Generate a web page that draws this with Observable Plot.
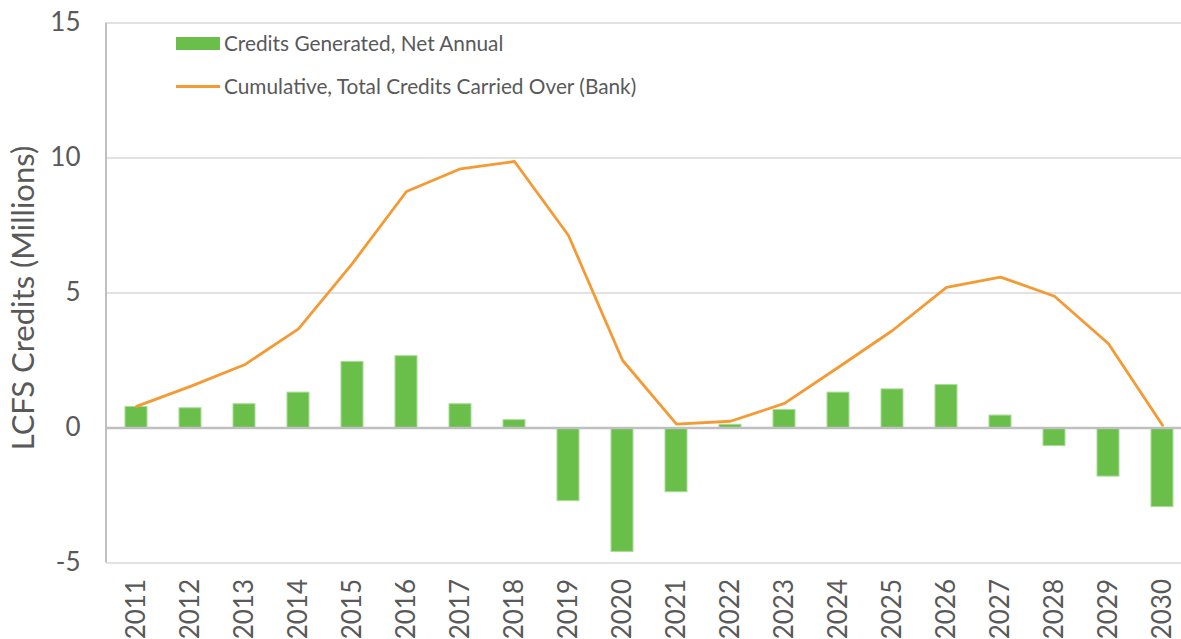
<!DOCTYPE html>
<html><head><meta charset="utf-8">
<script src="https://cdn.jsdelivr.net/npm/d3@7"></script>
<script src="https://cdn.jsdelivr.net/npm/@observablehq/plot@0.6"></script>
<style>
html,body{margin:0;padding:0;overflow:hidden;background:#fff}
#wrap{position:relative;width:1181px;height:639px;overflow:hidden}
#legend{position:absolute;left:176px;top:22px;font-family:Lato,sans-serif;font-size:20.8px;color:#595959}
.row{display:flex;align-items:center;height:43px;line-height:1}
.sw{width:44px;margin-right:4px}
</style></head><body>
<div id="wrap"><div id="chart"></div>
<div id="legend">
 <div class="row"><div class="sw" style="height:13px;background:#6abf4b"></div><span>Credits Generated, Net Annual</span></div>
 <div class="row"><div class="sw" style="height:3px;background:#f59a33"></div><span>Cumulative, Total Credits Carried Over (Bank)</span></div>
</div></div>
<script>
const years = [2011,2012,2013,2014,2015,2016,2017,2018,2019,2020,2021,2022,2023,2024,2025,2026,2027,2028,2029,2030];
const annualCredits = [0.78,0.73,0.88,1.31,2.45,2.66,0.88,0.29,-2.71,-4.59,-2.38,0.12,0.67,1.31,1.43,1.59,0.46,-0.67,-1.8,-2.93];
const cumulativeBank = [0.80,1.54,2.34,3.67,6.10,8.76,9.60,9.87,7.13,2.51,0.14,0.25,0.91,2.25,3.61,5.21,5.59,4.88,3.12,0.10];
const yTicks = [-5,0,5,10,15];
const yTitle = "LCFS Credits (Millions)";

const yearLabels = years.map(String);
const data = years.map((y,i)=>({year:yearLabels[i], annual:annualCredits[i], cumulative:cumulativeBank[i]}));
const font = "Lato, sans-serif";
const ink = "#595959";

const leftAxisLine = (index, scales, values, dims) => {
  const l = document.createElementNS("http://www.w3.org/2000/svg","line");
  l.setAttribute("x1", dims.marginLeft); l.setAttribute("x2", dims.marginLeft);
  l.setAttribute("y1", dims.marginTop); l.setAttribute("y2", dims.height - dims.marginBottom);
  l.setAttribute("stroke","#bfbfbf"); l.setAttribute("stroke-width","2");
  return l;
};

const chart = Plot.plot({
  width:1181, height:639,
  marginLeft:106, marginRight:-11, marginTop:22.5, marginBottom:76.5,
  style:{fontFamily:font, color:ink, background:"transparent", overflow:"visible"},
  x:{type:"band", domain:yearLabels, paddingInner:0.6, paddingOuter:0.3, axis:null},
  y:{domain:[-5,15], axis:null},
  marks:[
    Plot.gridY(yTicks.filter(t=>t!==0), {stroke:"#d9d9d9", strokeOpacity:1, strokeWidth:1.5}),
    Plot.barY(data, {x:"year", y:"annual", fill:"#6abf4b", stroke:"#a9dc96", strokeWidth:1}),
    Plot.ruleY([0], {stroke:"#bfbfbf", strokeWidth:2.5}),
    leftAxisLine,
    Plot.line(data, {x:"year", y:"cumulative", stroke:"#f59a33", strokeWidth:2.8, curve:"linear"}),
    Plot.axisY(yTicks, {tickSize:0, tickPadding:26, fontSize:26, fill:ink, tickFormat:d=>String(d)}),
    Plot.text(yearLabels, {x:d=>d, text:d=>d, frameAnchor:"bottom", dy:16, rotate:-90, textAnchor:"end", lineAnchor:"middle", fontSize:26, fill:ink}),
    Plot.text([yTitle], {frameAnchor:"left", dx:-82, dy:5, rotate:-90, text:d=>d, fontSize:31, fill:ink, textAnchor:"middle", lineAnchor:"middle"})
  ]
});
document.getElementById("chart").appendChild(chart);
</script></body></html>
